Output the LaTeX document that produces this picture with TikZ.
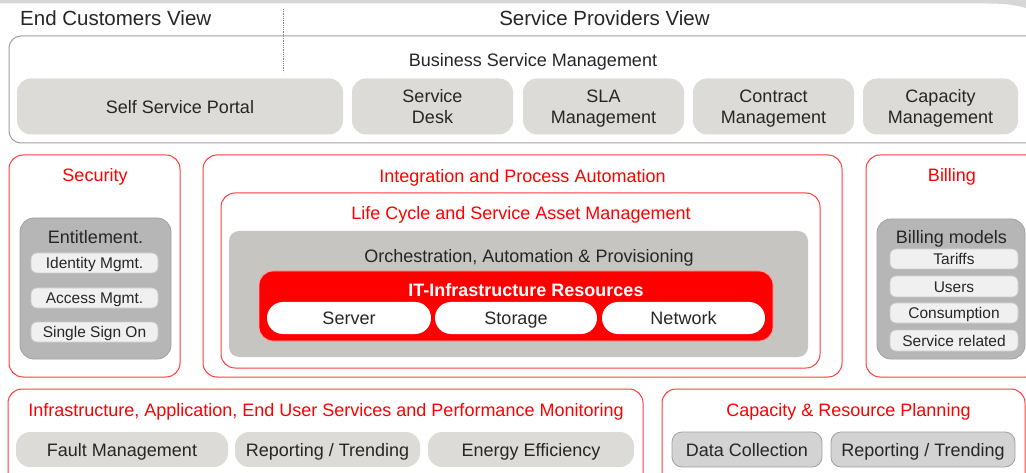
\documentclass[tikz,border=0pt]{standalone}
\usepackage{fontspec}
\setmainfont{Liberation Sans}
\usepackage{xcolor}
\definecolor{myred}{RGB}{255,0,0}
\definecolor{framered}{RGB}{255,60,60}
\definecolor{pillgray}{RGB}{220,219,215}
\definecolor{orchgray}{RGB}{198,197,193}
\definecolor{entgray}{RGB}{182,182,182}
\definecolor{subgray}{RGB}{240,240,240}
\definecolor{linegray}{RGB}{160,160,160}
\definecolor{topgray}{RGB}{215,215,215}
\newcommand{\bigfont}{\fontsize{20.5}{23}\selectfont}
\newcommand{\midfont}{\fontsize{18}{21}\selectfont}
\newcommand{\smallfont}{\fontsize{15.5}{18}\selectfont}
\tikzset{
    common/.style={inner sep=0pt, align=center, text=black!85},
    fixh/.style={text height=#1, text depth=0pt},
    sz/.style 2 args={minimum width=#1, minimum height=#2},
    head/.style={common, fixh=14.8pt, font=\bigfont},
    txt/.style={common, fixh=13pt, font=\midfont},
    redtxt/.style={txt, text=myred},
    outer/.style={common, draw=linegray, line width=1pt, rounded corners=12pt},
    redframe/.style={common, draw=framered, line width=1pt, rounded corners=14pt},
    toppill/.style={common, text depth=0pt, font=\midfont, fill=pillgray, rounded corners=14pt},
    pill/.style={txt, fill=pillgray, rounded corners=14pt},
    darkpill/.style={pill, fill=entgray!60, draw=linegray, line width=0.8pt, rounded corners=10pt},
    group/.style={txt, fill=entgray, draw=linegray, line width=0.8pt, rounded corners=14pt},
    item/.style={common, fixh=11.2pt, font=\smallfont, fill=subgray, draw=black!20, line width=0.8pt, rounded corners=6pt},
    whitepill/.style={txt, fill=white, rounded corners=16pt},
    divider/.style={densely dotted, black!50, line width=0.8pt}
}

\begin{document}
\begin{tikzpicture}[x=1pt,y=-1pt]
\useasboundingbox (0,0) rectangle (1026,473);
\clip (0,0) rectangle (1026,473);
\fill[topgray] (0,0) -- (1026,0) -- (1026,8) .. controls (1012,4) and (1000,3.5) .. (985,3.5) -- (0,3.5) -- cycle;

% views
\node[head, anchor=west] (endview) at (20,18.5) {End Customers View};
\node[head] (provview) at (604.5,18.5) {Service Providers View};
\coordinate (divtop) at (283,9);
\coordinate (divbot) at (283,72);
\draw[divider] (divtop) -- (divbot);

% business service management
\node[outer, sz={1031}{107}] (bsm) at (524.5,89.5) {};
\node[txt] (bsmtitle) at (533,60.5) {Business Service Management};
\node[toppill, sz={326}{56}] (ssp) at (180,106.5) {Self Service Portal};
\node[toppill, sz={161}{56}] (desk) at (432.5,106.5) {Service\\Desk};
\node[toppill, sz={161}{56}] (sla) at (603.5,106.5) {SLA\\Management};
\node[toppill, sz={161}{56}] (contract) at (773.5,106.5) {Contract\\Management};
\node[toppill, sz={155}{56}] (capmgmt) at (940.5,106.5) {Capacity\\Management};

% security
\node[redframe, sz={171}{222}] (sec) at (94.5,266) {};
\node[redtxt] (sectitle) at (95,175.5) {Security};
\node[group, sz={151}{141}] (ent) at (95.5,288.5) {};
\node[txt] (enttitle) at (95.5,237) {Entitlement.};
\node[item, sz={127}{20}] (ident) at (94.5,263) {Identity Mgmt.};
\node[item, sz={127}{20}] (access) at (94.5,298) {Access Mgmt.};
\node[item, sz={127}{20}] (sso) at (94.5,332) {Single Sign On};

% integration
\node[redframe, sz={639}{222}] (integ) at (522.5,266) {};
\node[redtxt] (integtitle) at (522.5,176) {Integration and Process Automation};
\node[redframe, sz={599}{175}] (life) at (520.5,280.5) {};
\node[redtxt] (lifetitle) at (521,213) {Life Cycle and Service Asset Management};
\node[common, fill=orchgray, rounded corners=10pt, sz={579}{126}] (orch) at (518.5,294) {};
\node[txt] (orchtitle) at (529,256) {Orchestration, Automation \& Provisioning};
\node[common, fill=myred, draw=red!35, line width=0.8pt, rounded corners=14pt, sz={514}{70}] (itres) at (516,306) {};
\node[txt, text=white, font=\midfont\bfseries] (ittitle) at (526,290) {IT-Infrastructure Resources};
\node[whitepill, sz={164}{32}] (server) at (349,318) {Server};
\node[whitepill, sz={162}{32}] (storage) at (516,318) {Storage};
\node[whitepill, sz={163}{32}] (network) at (683.5,318) {Network};

% billing
\node[redframe, sz={174}{222}] (bill) at (953,266) {};
\node[redtxt] (billtitle) at (952,175.5) {Billing};
\node[group, sz={148}{140}] (bmodels) at (951,289) {};
\node[txt] (bmtitle) at (951.5,237) {Billing models};
\node[item, sz={128}{20}] (tariffs) at (954,259) {Tariffs};
\node[item, sz={128}{21}] (users) at (954,286.5) {Users};
\node[item, sz={128}{20}] (consum) at (954,313) {Consumption};
\node[item, sz={128}{21}] (servrel) at (954,340.5) {Service related};

% monitoring
\node[redframe, sz={635}{101}] (mon) at (325.5,439.5) {};
\node[redtxt] (montitle) at (326,410) {Infrastructure, Application, End User Services and Performance Monitoring};
\node[pill, sz={212}{35}] (fault) at (122,449.5) {Fault Management};
\node[pill, sz={185}{35}] (report) at (327.5,449.5) {Reporting / Trending};
\node[pill, sz={206}{35}] (energy) at (531,449.5) {Energy Efficiency};

% capacity planning
\node[redframe, sz={363}{101}] (cap) at (843.5,439.5) {};
\node[redtxt] (captitle) at (848.5,410) {Capacity \& Resource Planning};
\node[darkpill, sz={150}{35}] (datacoll) at (747,449.5) {Data Collection};
\node[darkpill, sz={184}{35}] (capreport) at (923,449.5) {Reporting / Trending};
\end{tikzpicture}
\end{document}
